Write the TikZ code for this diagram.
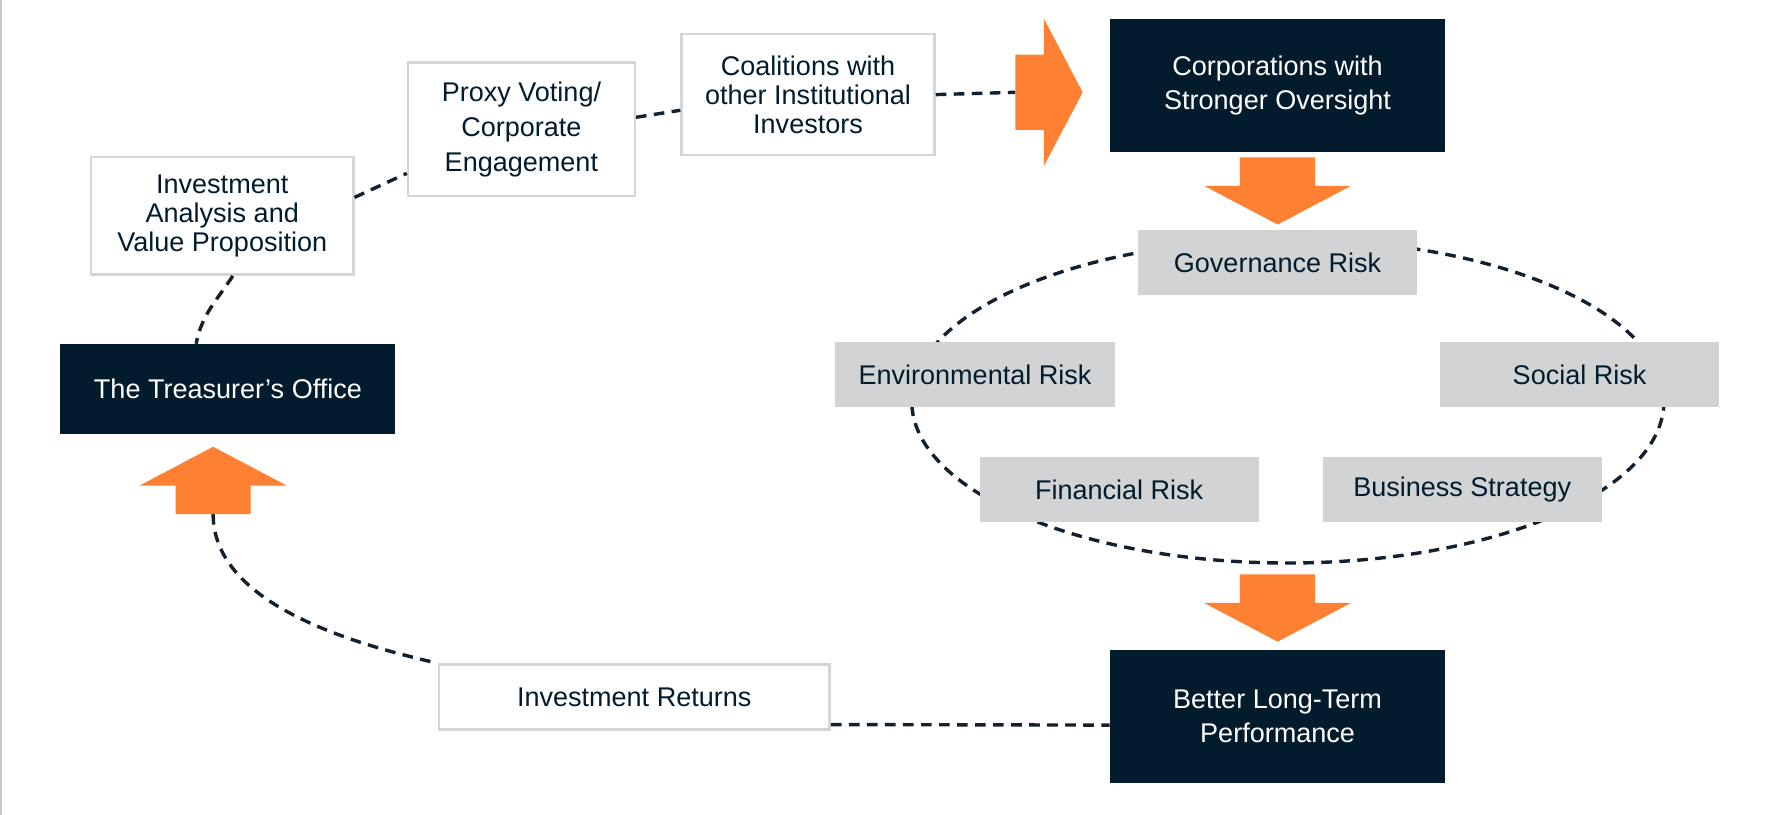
\documentclass[tikz,border=0pt]{standalone}
\usepackage{fontspec}
\setmainfont{Liberation Sans}
\usetikzlibrary{positioning,backgrounds}
\definecolor{navy}{HTML}{021C2D}
\definecolor{riskgrey}{HTML}{D1D3D4}
\definecolor{edgegrey}{HTML}{D3D5D6}
\definecolor{fatorange}{HTML}{FE8033}
\definecolor{dashnavy}{HTML}{13212E}
\newcommand {\fatarrow} [ 2 ] {%
\fill[fatorange,shift={(#1)},rotate=#2] (0,-33) -- (25,-33) -- (25,-64.5) -- (59,0) -- (25,64.5) -- (25,33) -- (0,33) -- cycle;%
}

\begin{document}
\begin{tikzpicture}[x=0.2mm,y=0.2mm,font=\fontsize{13.5}{14.5}\selectfont,
		dark/.style={fill=navy,text=white,align=center,minimum width=5.88cm},
		risk/.style={fill=riskgrey,text=navy,minimum width=4.9cm,minimum height=1.14cm},
		whitebox/.style={draw=edgegrey,line width=1.2pt,fill=white,text=navy,align=center},
		wide/.style={font=\fontsize{13.5}{17.4}\selectfont},
		link/.style={draw=dashnavy,line width=1.7pt,dash pattern=on 5.3pt off 3.7pt}]
		\useasboundingbox (0,0) rectangle (1568,-715);
		\draw[edgegrey!85!gray,line width=1.2pt] (1,0) -- (1,-715);
		
		\node[dark,wide,minimum height=2.32cm] (corp) at (1121,-75) {Corporations with\\Stronger Oversight};
		\node[risk,below=1.36cm of corp] (gov) {Governance Risk};
		\node[risk] (env) at (855.5,-328.5) {Environmental Risk};
		\node[risk] (soc) at (1386,-328.5) {Social Risk};
		\node[risk] (fin) at (982,-429.5) {Financial Risk};
		\node[risk] (bus) at (1283,-429.5) {Business Strategy};
		\node[dark,wide,minimum height=2.34cm] (perf) at (1121,-628.5) {Better Long-Term\\Performance};
		
		\node[whitebox,minimum width=6.86cm,minimum height=1.14cm] (ret) at (556.5,-611.5) {Investment Returns};
		\node[dark,minimum height=1.58cm] (tres) at (200,-341.5) {The Treasurer’s Office};
		\node[whitebox,minimum width=4.6cm,minimum height=2.06cm] (inv) at (195,-189.5) {Investment\\Analysis and\\Value Proposition};
		\node[whitebox,wide,minimum width=3.98cm,minimum height=2.34cm] (proxy) at (457.5,-113.5) {Proxy Voting/\\Corporate\\Engagement};
		\node[whitebox,minimum width=4.44cm,minimum height=2.12cm] (coal) at (709,-83) {Coalitions with\\other Institutional\\Investors};
		
		\coordinate (ring) at (1130,-352);
		\coordinate (rarr) at (891,-81);
		\coordinate (darr) at (1121,-138);
		\coordinate (parr) at (1121,-504);
		\coordinate (uarr) at (187,-451);
		
		\begin{scope}[on background layer]
			\draw[link] (ring) ellipse [x radius=6.6cm,y radius=2.84cm];
		\end{scope}
		
		\draw[link] (inv.8.7) -- (proxy.201);
		\draw[link] (proxy.6.5) -- (coal.187);
		\draw[link] (coal.east) -- (rarr);
		\draw[link] (inv.-80) to[out=-123,in=79] (tres.125);
		\draw[link] (uarr) to[out=-90,in=167,looseness=0.85] (ret.north west);
		\draw[link] (ret.-8) -- (perf.183.7);
		
		\fatarrow{rarr}{0}
		\fatarrow{darr}{-90}
		\fatarrow{parr}{-90}
		\fatarrow{uarr}{90}
	\end{tikzpicture}
\end{document}
